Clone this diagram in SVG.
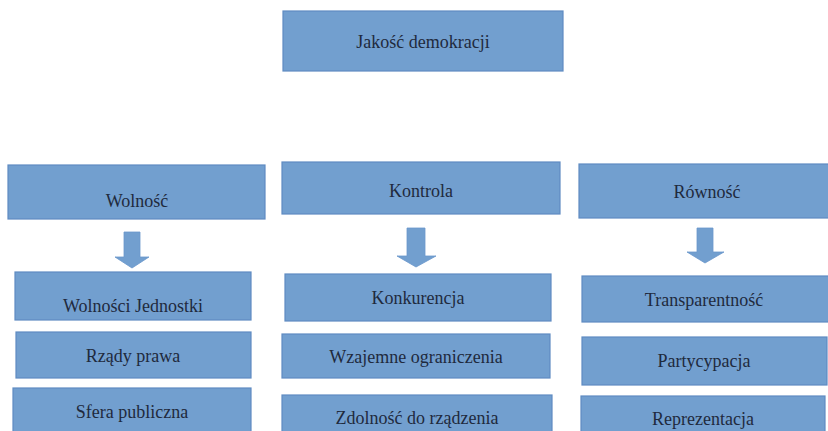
<svg xmlns="http://www.w3.org/2000/svg" width="828" height="431" viewBox="0 0 828 431">
<defs>
<style>
.box{fill:#729fcf;stroke:#5f8bc2;stroke-width:1.2}
.arr{fill:#729fcf;stroke:#6a97cb;stroke-width:0.8}
.t{font-family:'Liberation Serif','Times New Roman','DejaVu Serif',serif;font-size:18px;fill:#1f2a3d;text-anchor:middle}
</style>
</defs>
<rect width="828" height="431" fill="#ffffff"/>
<g id="jakosc"><rect class="box" x="283" y="11" width="280" height="60"/><text class="t" x="423" y="48">Jakość demokracji</text></g>
<g id="wolnosc"><rect class="box" x="8" y="165" width="257" height="54"/><text class="t" x="137" y="207">Wolność</text></g>
<g id="kontrola"><rect class="box" x="282" y="162" width="278" height="52"/><text class="t" x="421" y="197">Kontrola</text></g>
<g id="rownosc"><rect class="box" x="579" y="164" width="252" height="54"/><text class="t" x="707" y="198">Równość</text></g>
<g id="connectors">
<path class="arr" d="M124,232 H140 V257 H149 L132,268 L115,257 H124 Z"/>
<path class="arr" d="M407,228 H425 V256 H436 L416,267 L397,256 H407 Z"/>
<path class="arr" d="M697,228 H713 V252 H724 L705,263 L687,252 H697 Z"/>
</g>
<g id="wolnosci-jednostki"><rect class="box" x="15" y="272" width="236" height="48"/><text class="t" x="133" y="312">Wolności Jednostki</text></g>
<g id="rzady-prawa"><rect class="box" x="16" y="332" width="235" height="46"/><text class="t" x="133" y="362">Rządy prawa</text></g>
<g id="sfera-publiczna"><rect class="box" x="13" y="388" width="238" height="50"/><text class="t" x="132" y="418">Sfera publiczna</text></g>
<g id="konkurencja"><rect class="box" x="285" y="274" width="266" height="47"/><text class="t" x="418" y="304">Konkurencja</text></g>
<g id="wzajemne-ograniczenia"><rect class="box" x="282" y="334" width="268" height="44"/><text class="t" x="416" y="363">Wzajemne ograniczenia</text></g>
<g id="zdolnosc-do-rzadzenia"><rect class="box" x="282" y="395" width="270" height="45"/><text class="t" x="417" y="424">Zdolność do rządzenia</text></g>
<g id="transparentnosc"><rect class="box" x="582" y="276" width="249" height="46"/><text class="t" x="704" y="306">Transparentność</text></g>
<g id="partycypacja"><rect class="box" x="582" y="337" width="245" height="48"/><text class="t" x="704" y="367">Partycypacja</text></g>
<g id="reprezentacja"><rect class="box" x="581" y="396" width="244" height="45"/><text class="t" x="703" y="425">Reprezentacja</text></g>
</svg>
